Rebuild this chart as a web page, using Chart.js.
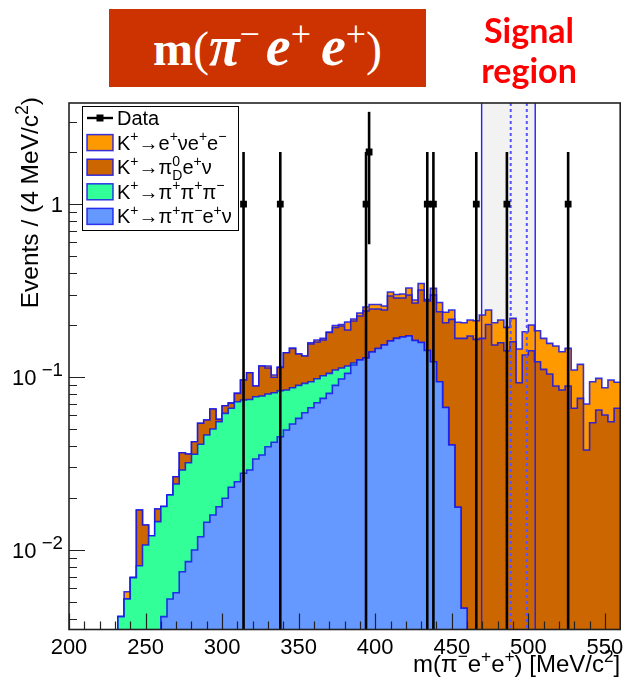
<!DOCTYPE html>
<html>
<head>
<meta charset="utf-8">
<script src="https://cdn.jsdelivr.net/npm/chart.js@4.4.1/dist/chart.umd.min.js"></script>
<style>
  html, body { margin: 0; padding: 0; background: #fff; }
  #wrap { position: relative; width: 625px; height: 683px; overflow: hidden; }
  #plot { position: absolute; left: 0; top: 0; }
  #title {
    position: absolute; left: 109px; top: 9px; width: 317px; height: 78px;
    background: #cc3300; color: #fff; text-align: center; white-space: nowrap;
    font-family: 'Liberation Serif', 'DejaVu Serif', serif; font-size: 48px; line-height: 74px;
  }
  #title .m { font-weight: bold; }
  #title .g { font-style: italic; font-weight: bold; font-size: 56px; }
  #title .s { font-size: 36px; position: relative; top: -19px; }
  #title .sp { margin-left: 10px; }
  #title .gap { margin-left: 6px; }
  #signal {
    position: absolute; left: 464px; top: 10px; width: 130px; text-align: center;
    color: #ff0000; font-family: Lato, 'Open Sans', sans-serif; font-weight: bold;
    font-size: 34px; line-height: 40px;
  }
</style>
</head>
<body>
<div id="wrap">
  <canvas id="plot" width="625" height="683"></canvas>
  <div id="title"><span class="m">m</span>(<span class="g">π</span><span class="s">−</span><span class="g gap">e</span><span class="s">+</span><span class="g sp">e</span><span class="s">+</span>)</div>
  <div id="signal">Signal<br>region</div>
</div>
<script>
// binning: 90 bins of 4 MeV/c2 from 200 to 560
const massMin = 200;
const massMax = 560;
const binWidth = 4;

// per-process expected events per bin (bins 200-204 ... 556-560), ten bins per row
const kPiPiENu = [
  0, 0, 0, 0, 0, 0, 0, 0, 0, 0,
  0, 0, 0, 0, 0, 0.00412, 0.00521, 0.00566, 0.00749, 0.00856,
  0.0100, 0.01194, 0.01446, 0.01593, 0.01779, 0.0199, 0.02304, 0.02482, 0.02776, 0.02901,
  0.03357, 0.0354, 0.03955, 0.04193, 0.04517, 0.04939, 0.05349, 0.0577, 0.06218, 0.06645,
  0.07103, 0.0753, 0.08045, 0.08954, 0.09737, 0.10504, 0.11735, 0.1254, 0.12877, 0.13946,
  0.14609, 0.1531, 0.16145, 0.16735, 0.17026, 0.17258, 0.16255, 0.15828, 0.14226, 0.12261,
  0.09394, 0.06664, 0.04045, 0.01765, 0.0046, 0, 0, 0, 0, 0,
  0, 0, 0, 0, 0, 0, 0, 0, 0, 0,
  0, 0, 0, 0, 0, 0, 0, 0, 0, 0
];
const k3Pi = [
  0, 0, 0, 0, 0, 0, 0, 0, 0.00412, 0.00521,
  0.00692, 0.00811, 0.01069, 0.0121, 0.01458, 0.01372, 0.01558, 0.01841, 0.02152, 0.0234,
  0.02574, 0.02889, 0.03175, 0.03413, 0.03736, 0.04176, 0.04289, 0.04717, 0.04589, 0.04512,
  0.04335, 0.04225, 0.04018, 0.03919, 0.03814, 0.03471, 0.03323, 0.03184, 0.02978, 0.02749,
  0.02674, 0.02644, 0.02459, 0.02023, 0.01535, 0.01074, 0.00316, 0, 0, 0,
  0, 0, 0, 0, 0, 0, 0, 0, 0, 0,
  0, 0, 0, 0, 0, 0, 0, 0, 0, 0,
  0, 0, 0, 0, 0, 0, 0, 0, 0, 0,
  0, 0, 0, 0, 0, 0, 0, 0, 0, 0
];
const kPi0DENu = [
  0, 0, 0, 0, 0, 0, 0, 0, 0, 0,
  0, 0.00892, 0.00326, 0, 0.00268, 0, 0, 0.00245, 0.0075, 0.00393,
  0.00653, 0.01317, 0.0102, 0.01525, 0.00178, 0.00658, 0.00454, 0.00846, 0.02244, 0.03177,
  0.0118, 0.03813, 0.03299, 0.01849, 0.03048, 0.05403, 0.05976, 0.0463, 0.04032, 0.06119,
  0.06153, 0.06188, 0.07626, 0.0835, 0.08447, 0.07115, 0.0902, 0.09982, 0.11194, 0.10773,
  0.1011, 0.0908, 0.1324, 0.11878, 0.11587, 0.12527, 0.10529, 0.16006, 0.13277, 0.17524,
  0.1445, 0.13935, 0.17507, 0.1497, 0.16275, 0.17258, 0.16517, 0.16735, 0.20118, 0.1531,
  0.15784, 0.14191, 0.15996, 0.09271, 0.13404, 0.14191, 0.12261, 0.1108, 0.10406, 0.08872,
  0.0841, 0.08872, 0.06593, 0.0753, 0.03785, 0.05443, 0.06445, 0.0603, 0.05515, 0.06593
];
const kENuEE = [
  0, 0, 0, 0, 0, 0, 0, 0, 0, 0.00053,
  0, 0, 0, 0, 0, 0, 0, 0, 0, 0,
  0, 0, 0, 0, 0, 0, 0.00056, 0, 0, 0,
  0, 0, 0.00306, 0.0031, 0, 0, 0, 0, 0, 0.00271,
  0.00432, 0.00373, 0, 0.00524, 0.00399, 0.02102, 0.0057, 0.00915, 0.01316, 0.01529,
  0.01529, 0.0134, 0.01615, 0.01367, 0.01567, 0.02903, 0.01089, 0.02879, 0.00551, 0.0277,
  0.0312, 0.03087, 0.02838, 0.04001, 0.03864, 0.04097, 0.04637, 0.06088, 0.04272, 0.05289,
  0.05571, 0.05189, 0.05846, 0.05241, 0.0487, 0.05793, 0.06258, 0.05655, 0.05251, 0.06232,
  0.05591, 0.05776, 0.04384, 0.04312, 0.03197, 0.03951, 0.03384, 0.02642, 0.04094, 0.02727
];

// observed data: bin centres and counts
const dataMass = [314, 338, 394, 396, 434, 438, 466, 486, 526];
const dataCount = [1, 1, 1, 2, 1, 1, 1, 1, 1];

// signal region and the K mass window inside it
const signalRegion = [469.5, 504.5];
const signalLines = [488.5, 499];

// axes
const yMin = 0.00347;
const yMax = 3.84;
const xMajorTicks = [200, 250, 300, 350, 400, 450, 500, 550];
const yMajorTicks = [0.01, 0.1, 1];
const yTickLabels = [['10', '−2'], ['10', '−1'], ['1', '']];

const colors = {
  enuee: '#ff9900',
  pi0d: '#cc6600',
  threePi: '#33ff99',
  pipienu: '#6699ff',
  outline: 'rgba(20, 20, 235, 0.85)'
};

// legend rows, rich text parts: [text, 0 normal | 1 sup | 2 sub | 3 sup/sub stacked "a|b"]
const legendRows = [
  { kind: 'data', parts: [['Data', 0]] },
  { color: colors.enuee, parts: [['K', 0], ['+', 1], ['→e', 0], ['+', 1], ['νe', 0], ['+', 1], ['e', 0], ['−', 1]] },
  { color: colors.pi0d, parts: [['K', 0], ['+', 1], ['→π', 0], ['0|D', 3], ['e', 0], ['+', 1], ['ν', 0]] },
  { color: colors.threePi, parts: [['K', 0], ['+', 1], ['→π', 0], ['+', 1], ['π', 0], ['+', 1], ['π', 0], ['−', 1]] },
  { color: colors.pipienu, parts: [['K', 0], ['+', 1], ['→π', 0], ['+', 1], ['π', 0], ['−', 1], ['e', 0], ['+', 1], ['ν', 0]] }
];

const FONT = "'Liberation Sans', Arial, sans-serif";

// stack the processes the way ROOT's THStack does
function cumulate(...series) {
  return series[0].map((_, i) => series.reduce((s, arr) => s + arr[i], 0));
}
const stack1 = cumulate(kPiPiENu);
const stack2 = cumulate(kPiPiENu, k3Pi);
const stack3 = cumulate(kPiPiENu, k3Pi, kPi0DENu);
const stack4 = cumulate(kPiPiENu, k3Pi, kPi0DENu, kENuEE);

const floorValue = 1e-4;
function stepPoints(levels) {
  const pts = levels.map((v, i) => ({ x: massMin + i * binWidth, y: v > 0 ? v : floorValue }));
  const last = levels[levels.length - 1];
  pts.push({ x: massMax, y: last > 0 ? last : floorValue });
  return pts;
}

function histDataset(levels, fillColor) {
  return {
    data: stepPoints(levels),
    stepped: 'before',
    fill: 'start',
    backgroundColor: fillColor,
    borderColor: colors.outline,
    borderWidth: 1.6,
    pointRadius: 0,
    pointHoverRadius: 0
  };
}

function richWidth(ctx, parts, size, supScale) {
  let w = 0;
  parts.forEach(([t, k]) => {
    if (k === 0) { ctx.font = size + 'px ' + FONT; w += ctx.measureText(t).width; }
    else if (k === 3) {
      ctx.font = (size * supScale) + 'px ' + FONT;
      const [a, b] = t.split('|');
      w += Math.max(ctx.measureText(a).width, ctx.measureText(b).width);
    } else { ctx.font = (size * supScale) + 'px ' + FONT; w += ctx.measureText(t).width; }
  });
  return w;
}

function drawRich(ctx, parts, x, y, size, align, supScale = 0.7) {
  const total = richWidth(ctx, parts, size, supScale);
  let cx = align === 'right' ? x - total : align === 'center' ? x - total / 2 : x;
  ctx.textAlign = 'left';
  ctx.textBaseline = 'alphabetic';
  parts.forEach(([t, k]) => {
    if (k === 0) {
      ctx.font = size + 'px ' + FONT;
      ctx.fillText(t, cx, y);
      cx += ctx.measureText(t).width;
    } else if (k === 1) {
      ctx.font = (size * supScale) + 'px ' + FONT;
      ctx.fillText(t, cx, y - size * 0.42);
      cx += ctx.measureText(t).width;
    } else if (k === 2) {
      ctx.font = (size * supScale) + 'px ' + FONT;
      ctx.fillText(t, cx, y + size * 0.22);
      cx += ctx.measureText(t).width;
    } else {
      ctx.font = (size * supScale) + 'px ' + FONT;
      const [a, b] = t.split('|');
      ctx.fillText(a, cx, y - size * 0.42);
      ctx.fillText(b, cx, y + size * 0.3);
      cx += Math.max(ctx.measureText(a).width, ctx.measureText(b).width);
    }
  });
}

const signalBand = {
  id: 'signalBand',
  beforeDatasetsDraw(chart) {
    const { ctx, chartArea: a, scales: { x } } = chart;
    ctx.save();
    ctx.fillStyle = '#f2f2f2';
    const x0 = x.getPixelForValue(signalRegion[0]);
    const x1 = x.getPixelForValue(signalRegion[1]);
    ctx.fillRect(x0, a.top, x1 - x0, a.bottom - a.top);
    ctx.restore();
  },
  afterDatasetDraw(chart, args) {
    if (args.index !== 0) return;
    const { ctx, chartArea: a, scales: { x } } = chart;
    ctx.save();
    ctx.strokeStyle = '#1f1fff';
    ctx.lineWidth = 1.4;
    signalRegion.forEach(m => {
      const px = x.getPixelForValue(m);
      ctx.beginPath(); ctx.moveTo(px, a.top); ctx.lineTo(px, a.bottom); ctx.stroke();
    });
    ctx.strokeStyle = '#5555ff';
    ctx.lineWidth = 2;
    ctx.setLineDash([3, 3]);
    signalLines.forEach(m => {
      const px = x.getPixelForValue(m);
      ctx.beginPath(); ctx.moveTo(px, a.top); ctx.lineTo(px, a.bottom); ctx.stroke();
    });
    ctx.restore();
  }
};

const errorBars = {
  id: 'errorBars',
  afterDatasetsDraw(chart) {
    const { ctx, chartArea: a, scales: { x, y } } = chart;
    ctx.save();
    ctx.strokeStyle = '#000';
    ctx.lineWidth = 2.6;
    dataMass.forEach((m, i) => {
      const n = dataCount[i];
      const err = Math.sqrt(n);
      const px = x.getPixelForValue(m);
      const top = Math.max(a.top, y.getPixelForValue(n + err));
      const lo = n - err;
      const bottom = lo > yMin ? y.getPixelForValue(lo) : a.bottom;
      ctx.beginPath(); ctx.moveTo(px, top); ctx.lineTo(px, bottom); ctx.stroke();
    });
    ctx.restore();
  }
};

const frameAndAxes = {
  id: 'frameAndAxes',
  afterDraw(chart) {
    const { ctx, chartArea: a, scales: { x, y } } = chart;
    ctx.save();
    // ticks
    ctx.strokeStyle = '#222';
    ctx.lineWidth = 1.2;
    ctx.beginPath();
    for (let m = massMin; m < massMax; m += 10) {
      const px = Math.round(x.getPixelForValue(m)) + 0.5;
      const len = xMajorTicks.includes(m) ? 16 : 8;
      ctx.moveTo(px, a.bottom); ctx.lineTo(px, a.bottom - len);
    }
    for (let e = -3; e <= 0; e++) {
      for (let k = 1; k <= 9; k++) {
        const v = k * Math.pow(10, e);
        if (v < yMin || v > yMax) continue;
        const py = Math.round(y.getPixelForValue(v)) + 0.5;
        const len = k === 1 ? 16 : 8;
        ctx.moveTo(a.left, py); ctx.lineTo(a.left + len, py);
      }
    }
    ctx.stroke();
    // frame
    ctx.strokeStyle = '#222';
    ctx.lineWidth = 1.6;
    ctx.strokeRect(a.left, a.top, a.right - a.left, a.bottom - a.top);

    // tick labels
    ctx.fillStyle = '#000';
    ctx.font = '22px ' + FONT;
    ctx.textAlign = 'center';
    ctx.textBaseline = 'alphabetic';
    xMajorTicks.forEach(m => ctx.fillText(String(m), x.getPixelForValue(m), a.bottom + 24));
    yMajorTicks.forEach((v, i) => {
      const [base, exp] = yTickLabels[i];
      const py = y.getPixelForValue(v);
      const parts = exp ? [[base, 0], [' ', 1], [exp, 1]] : [[base, 0]];
      drawRich(ctx, parts, a.left - 6, py + 8, 22, 'right', 0.85);
    });

    // axis titles
    drawRich(ctx, [['m(π', 0], ['−', 1], ['e', 0], ['+', 1], ['e', 0], ['+', 1], [') [MeV/c', 0], ['2', 1], [']', 0]],
      a.right, 672, 24, 'right', 0.72);
    ctx.save();
    ctx.translate(38, a.top - 6);
    ctx.rotate(-Math.PI / 2);
    drawRich(ctx, [['Events / (4 MeV/c', 0], ['2', 1], [')', 0]], 0, 0, 24.5, 'right', 0.72);
    ctx.restore();

    // legend
    const lx = 82, ly = 106, lw = 156, lh = 124;
    ctx.fillStyle = '#fff';
    ctx.fillRect(lx, ly, lw, lh);
    ctx.strokeStyle = '#000';
    ctx.lineWidth = 1;
    ctx.strokeRect(lx + 0.5, ly + 0.5, lw, lh);
    legendRows.forEach((row, i) => {
      const cy = ly + 12 + i * 24.6;
      if (row.kind === 'data') {
        ctx.strokeStyle = '#000';
        ctx.lineWidth = 2.4;
        ctx.beginPath(); ctx.moveTo(87, cy); ctx.lineTo(113, cy); ctx.stroke();
        ctx.fillStyle = '#000';
        ctx.fillRect(96.5, cy - 3.5, 7, 7);
      } else {
        ctx.fillStyle = row.color;
        ctx.fillRect(87, cy - 8, 26, 16);
        ctx.strokeStyle = colors.outline;
        ctx.lineWidth = 1.5;
        ctx.strokeRect(87, cy - 8, 26, 16);
      }
      ctx.fillStyle = '#000';
      drawRich(ctx, row.parts, 117, cy + 7, 20, 'left');
    });
    ctx.restore();
  }
};

const dataPoints = dataMass.map((m, i) => ({ x: m, y: dataCount[i] }));

new Chart(document.getElementById('plot'), {
  type: 'line',
  data: {
    datasets: [
      histDataset(stack1, colors.pipienu),
      histDataset(stack2, colors.threePi),
      histDataset(stack3, colors.pi0d),
      histDataset(stack4, colors.enuee),
      {
        data: dataPoints,
        showLine: false,
        pointStyle: 'rect',
        pointRadius: 4.8,
        pointBackgroundColor: '#000',
        pointBorderWidth: 0,
        order: -1
      }
    ]
  },
  options: {
    responsive: false,
    animation: false,
    devicePixelRatio: 1,
    layout: { padding: { left: 69, right: 3, top: 103, bottom: 53.5 } },
    scales: {
      x: { type: 'linear', min: massMin, max: massMax, display: false },
      y: { type: 'logarithmic', min: yMin, max: yMax, display: false }
    },
    plugins: {
      legend: { display: false },
      tooltip: { enabled: false }
    },
    events: []
  },
  plugins: [signalBand, errorBars, frameAndAxes]
});
</script>
</body>
</html>
